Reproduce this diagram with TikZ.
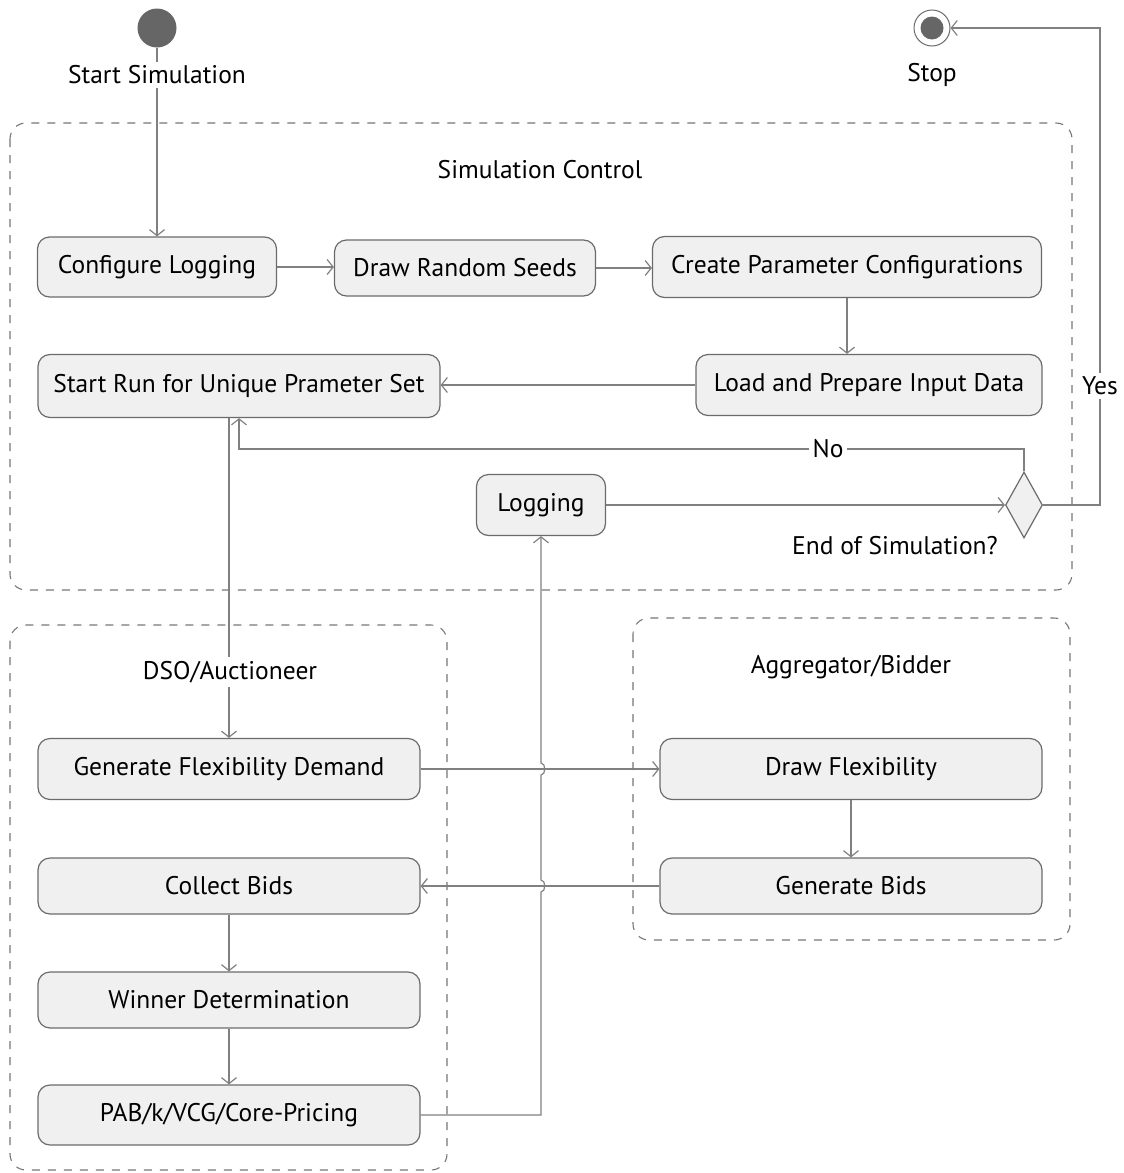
\documentclass[tikz,border=0pt]{standalone}
\usepackage{fontspec}
\setmainfont{PT Sans}
\usetikzlibrary{arrows.meta,calc,shapes.geometric}

\definecolor{boxfill}{HTML}{F0F0F0}
\definecolor{boxline}{HTML}{6B6B6B}
\definecolor{wire}{HTML}{808080}
\definecolor{laneline}{HTML}{777777}
\definecolor{dotfill}{HTML}{666666}

\begin{document}
\begin{tikzpicture}[x=1pt,y=-1pt,
  every node/.style={font=\fontsize{25.5}{30}\selectfont},
  act/.style={draw=boxline, fill=boxfill, rounded corners=12pt, line width=1.2pt, inner sep=0pt},
  flow/.style={draw=wire, line width=1.2pt, -{Straight Barb[length=6pt,width=15pt]}},
  lane/.style={draw=laneline, dash pattern=on 8pt off 8pt, rounded corners=16pt, line width=1.1pt},
  lbl/.style={fill=white, inner sep=4pt},
]
\useasboundingbox (0,0) rectangle (1124,1173);

% swimlanes
\draw[lane] (10,123) rectangle (1072,590);
\draw[lane] (10,625) rectangle (447,1170);
\draw[lane] (633,618) rectangle (1070,940);

% initial and final states
\node[circle, fill=dotfill, minimum size=39pt, inner sep=0pt] (start) at (157,28) {};
\node[circle, draw=boxline, line width=1pt, fill=white, minimum size=36pt, inner sep=0pt] (stop) at (932,28) {};
\fill[dotfill] (stop.center) circle (11.5pt);

% simulation control
\node[act, minimum width=239pt, minimum height=60pt] (cfg)   at (157,267) {Configure Logging};
\node[act, minimum width=261pt, minimum height=56pt] (seeds) at (465,268) {Draw Random Seeds};
\node[act, minimum width=389pt, minimum height=61pt] (param) at (847,267) {Create Parameter Configurations};
\node[act, minimum width=346pt, minimum height=61pt] (load)  at (869,385) {Load and Prepare Input Data};
\node[act, minimum width=402pt, minimum height=63pt] (run)   at (239,386) {Start Run for Unique Prameter Set};
\node[act, minimum width=129pt, minimum height=61pt] (log)   at (541,505) {Logging};
\node[diamond, draw=boxline, fill=boxfill, line width=1.2pt, minimum width=37pt, minimum height=66pt, inner sep=0pt] (dec) at (1024,505) {};
\node (decq) at (895,546) {End of Simulation?};

% auctioneer
\node[act, minimum width=382pt, minimum height=61pt] (dem) at (229,769) {Generate Flexibility Demand};
\node[act, minimum width=382pt, minimum height=56pt] (col) at (229,886) {Collect Bids};
\node[act, minimum width=382pt, minimum height=56pt] (win) at (229,1000) {Winner Determination};
\node[act, minimum width=382pt, minimum height=60pt] (pay) at (229,1115) {PAB/k/VCG/Core-Pricing};

% bidder
\node[act, minimum width=382pt, minimum height=61pt] (dfl)  at (851,769) {Draw Flexibility};
\node[act, minimum width=382pt, minimum height=56pt] (gbid) at (851,886) {Generate Bids};

% helper coordinates for routed connectors
\coordinate (nolevel) at (0,449);
\coordinate (yesx) at (1100,300);
\coordinate (hopx) at (log.south |- pay.east);

% connectors
\draw[flow] (start) -- (cfg);
\draw[flow] (cfg.east) -- (cfg.east -| seeds.west);
\draw[flow] (seeds.east) -- (seeds.east -| param.west);
\draw[flow] (param.south) -- (param.south |- load.north);
\draw[flow] (load.west) -- (load.west -| run.east);
\draw[flow] (dem.north |- run.south) -- (dem.north);
\draw[flow] (log.east) -- (dec.west);
\draw[flow] (dec.north) -- (dec.north |- nolevel) -| (run.south);
\draw[flow] (dec.east) -- (dec.east -| yesx) -- (yesx |- stop) -- (stop.east);
\draw[flow] (dem.east) -- (dfl.west);
\draw[flow] (dfl.south) -- (gbid.north);
\draw[flow] (gbid.west) -- (col.east);
\draw[flow] (col.south) -- (win.north);
\draw[flow] (win.south) -- (pay.north);
\draw[flow] (pay.east) -- (hopx)
  -- ($(log.south |- col.east)+(0,6)$) .. controls +(5,0) and +(5,0) .. ($(log.south |- col.east)+(0,-6)$)
  -- ($(log.south |- dem.east)+(0,6)$) .. controls +(5,0) and +(5,0) .. ($(log.south |- dem.east)+(0,-6)$)
  -- (log.south);

% labels sitting on top of the connectors
\node[lbl] at (157,75) {Start Simulation};
\node[lbl] at (932,75) {Stop};
\node[lbl] at (828,449) {No};
\node[lbl] at (1100,386) {Yes};
\node at (540,170) {Simulation Control};
\node[lbl] at (230,672) {DSO/Auctioneer};
\node at (851,667) {Aggregator/Bidder};
\end{tikzpicture}
\end{document}
